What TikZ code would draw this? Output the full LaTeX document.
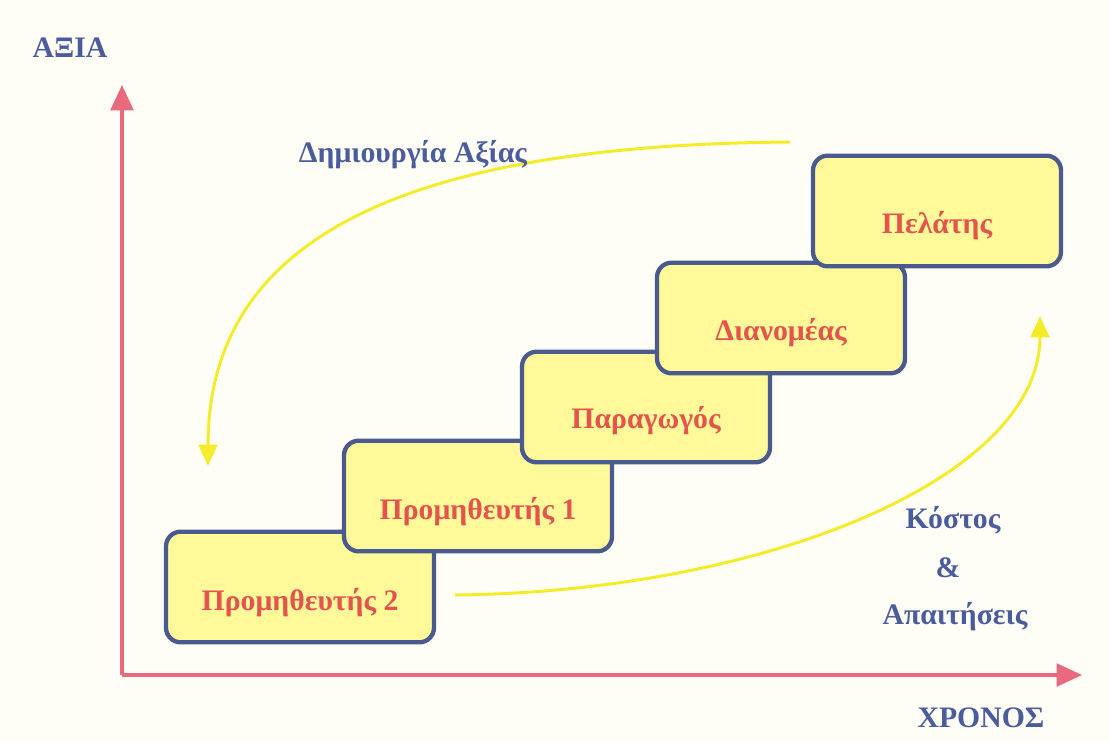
\documentclass[tikz,border=0pt]{standalone}
\usepackage{fontspec}
\setmainfont{Liberation Serif}
\usetikzlibrary{arrows.meta,calc}
\definecolor{bgcol}{HTML}{FEFEF6}
\definecolor{axiscol}{HTML}{E96A7E}
\definecolor{labelcol}{HTML}{4B5C9C}
\definecolor{edgecol}{HTML}{4A5A8E}
\definecolor{boxfill}{HTML}{FFF99A}
\definecolor{boxtextcol}{HTML}{E4534D}
\definecolor{flowcol}{HTML}{F4EC2A}
\tikzset{
  axis/.style={draw=axiscol, line width=3.2pt*0.75,
    -{Triangle[length=19pt,width=17pt]}},
  flow/.style={draw=flowcol, line width=3pt*0.75,
    -{Triangle[length=16pt,width=14pt]}},
  stagebox/.style={draw=edgecol, fill=boxfill, line width=4.3pt*0.75,
    rounded corners=11pt, minimum width=186pt, minimum height=83pt,
    inner sep=0pt},
  widebox/.style={stagebox, minimum width=201pt},
  stagetext/.style={text=boxtextcol, font=\bfseries\fontsize{22.3}{27}\selectfont},
  axislabel/.style={text=labelcol, font=\bfseries\fontsize{22.3}{27}\selectfont}
}
\begin{document}
\begin{tikzpicture}[x=0.75pt,y=-0.75pt]
  % canvas
  \fill[bgcol] (0,0) rectangle (1109,742);
  \useasboundingbox (0,0) rectangle (1109,742);

  % axes
  \coordinate (O) at (122,675);
  \coordinate (ytip) at (122,85);
  \coordinate (xtip) at (1082,675);
  \draw[axis] (O) -- (ytip);
  \draw[axis] (O) -- (xtip);
  \node[axislabel] (vlabel) at (70,48) {ΑΞΙΑ};
  \node[axislabel] (hlabel) at (981,718) {ΧΡΟΝΟΣ};

  % value-creation and cost flows
  \coordinate (vstart) at (790,142);
  \coordinate (vend) at (208,466);
  \draw[flow] (vstart) .. controls (400,145) and (208,240) .. (vend);
  \node[axislabel] (vtext) at (413,155) {Δημιουργία Αξίας};

  \coordinate (cstart) at (455,595);
  \coordinate (cend) at (1040,316);
  \draw[flow] (cstart) .. controls (760,592) and (1040,480) .. (cend);
  \node[axislabel] (ctext1) at (953,520) {Κόστος};
  \node[axislabel] (ctext2) at (948,568) {\&};
  \node[axislabel] (ctext3) at (955,617) {Απαιτήσεις};

  % the chain, from bottom-left to top-right
  \node[widebox] (s2) at (300,587) {};
  \node[stagetext] (s2t) at ($(s2.center)+(0,16)$) {Προμηθευτής 2};
  \node[widebox] (s1) at (478,496) {};
  \node[stagetext] (s1t) at ($(s1.center)+(0,16)$) {Προμηθευτής 1};
  \node[stagebox] (pr) at (646,407) {};
  \node[stagetext] (prt) at ($(pr.center)+(0,14)$) {Παραγωγός};
  \node[stagebox] (di) at (781,318) {};
  \node[stagetext] (dit) at ($(di.center)+(0,15)$) {Διανομέας};
  \node[stagebox] (pe) at (937,211) {};
  \node[stagetext] (pet) at ($(pe.center)+(0,15)$) {Πελάτης};
\end{tikzpicture}
\end{document}
